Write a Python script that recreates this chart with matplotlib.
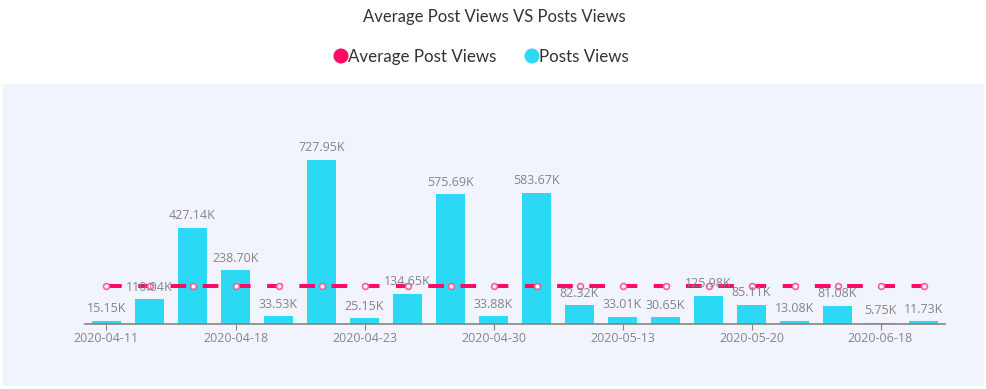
import matplotlib.pyplot as plt
import numpy as np
from matplotlib.patches import Rectangle, Ellipse

# data (thousands of views)
dates = ['2020-04-11', '', '', '2020-04-18', '', '', '2020-04-23', '', '',
         '2020-04-30', '', '', '2020-05-13', '', '', '2020-05-20', '', '',
         '2020-06-18', '']
post_views = [15.15, 110.04, 427.14, 238.70, 33.53, 727.95, 25.15, 134.65,
              575.69, 33.88, 583.67, 82.32, 33.01, 30.65, 125.98, 85.11,
              13.08, 81.08, 5.75, 11.73]
avg_views = [168.71] * 20

title = 'Average Post Views VS Posts Views'
series_names = ['Average Post Views', 'Posts Views']
pink = '#ff0a64'
cyan = '#2bd9f5'
gray = '#858585'

W, H = 987, 389
plt.rcParams['font.family'] = ['Lato', 'DejaVu Sans']
label_font = ['Open Sans', 'DejaVu Sans']

fig = plt.figure(figsize=(W / 100, H / 100), dpi=100)
fig.patch.set_facecolor('white')

# light panel behind the plot
fig.patches.append(Rectangle((3 / W, 1 - 386 / H), 981 / W, 302 / H,
                             transform=fig.transFigure, facecolor='#f1f4fc',
                             edgecolor='none', zorder=-1))

# axes box in pixel terms: x 85..945, baseline at y=324
ymax = 800
px_per_k = 164 / 727.95
top_px = 324 - ymax * px_per_k
ax = fig.add_axes([85 / W, 1 - 324 / H, 860 / W, (324 - top_px) / H])
ax.set_facecolor('none')
ax.set_zorder(2)

x = np.arange(len(post_views))
ax.bar(x, post_views, width=0.69, color=cyan, zorder=2)
ax.plot(x, avg_views, color=pink, lw=2.9, linestyle=(0, (3.9, 4.1)),
        solid_capstyle='butt', dash_capstyle='butt', zorder=3)
ax.plot(x, avg_views, linestyle='none', marker='o', markersize=4.2,
        markerfacecolor='white', markeredgecolor='#ff5c93',
        markeredgewidth=1.2, zorder=4)

for xi, v in zip(x, post_views):
    ax.annotate(f'{v:.2f}K', (xi, v), xytext=(0, 4),
                textcoords='offset points', ha='center', va='bottom',
                fontsize=9, color=gray, family=label_font, zorder=5)

ax.set_xlim(-0.5, len(x) - 0.5)
ax.set_ylim(0, ymax)
ax.set_yticks([])
tick_idx = [i for i, d in enumerate(dates) if d]
ax.set_xticks(tick_idx)
ax.set_xticklabels([dates[i] for i in tick_idx], fontsize=9, color=gray,
                   family=label_font)
ax.tick_params(axis='x', length=4, color=gray, pad=1.5)
for s in ['top', 'right', 'left']:
    ax.spines[s].set_visible(False)
ax.spines['bottom'].set_color(gray)
ax.spines['bottom'].set_linewidth(1.2)

fig.text(494 / W, 1 - 17 / H, title, ha='center', va='center',
         fontsize=12, color='#333333')

# legend drawn like the original: dot + label
for cx, col, name in [(341, pink, series_names[0]), (532, cyan, series_names[1])]:
    fig.patches.append(Ellipse((cx / W, 1 - 56 / H), 15 / W, 15 / H,
                               transform=fig.transFigure,
                               facecolor=col, edgecolor='none'))
    fig.text((cx + 7) / W, 1 - 57 / H, name, ha='left', va='center',
             fontsize=12.2, color='#333333')

fig.savefig('out.png', dpi=100)
